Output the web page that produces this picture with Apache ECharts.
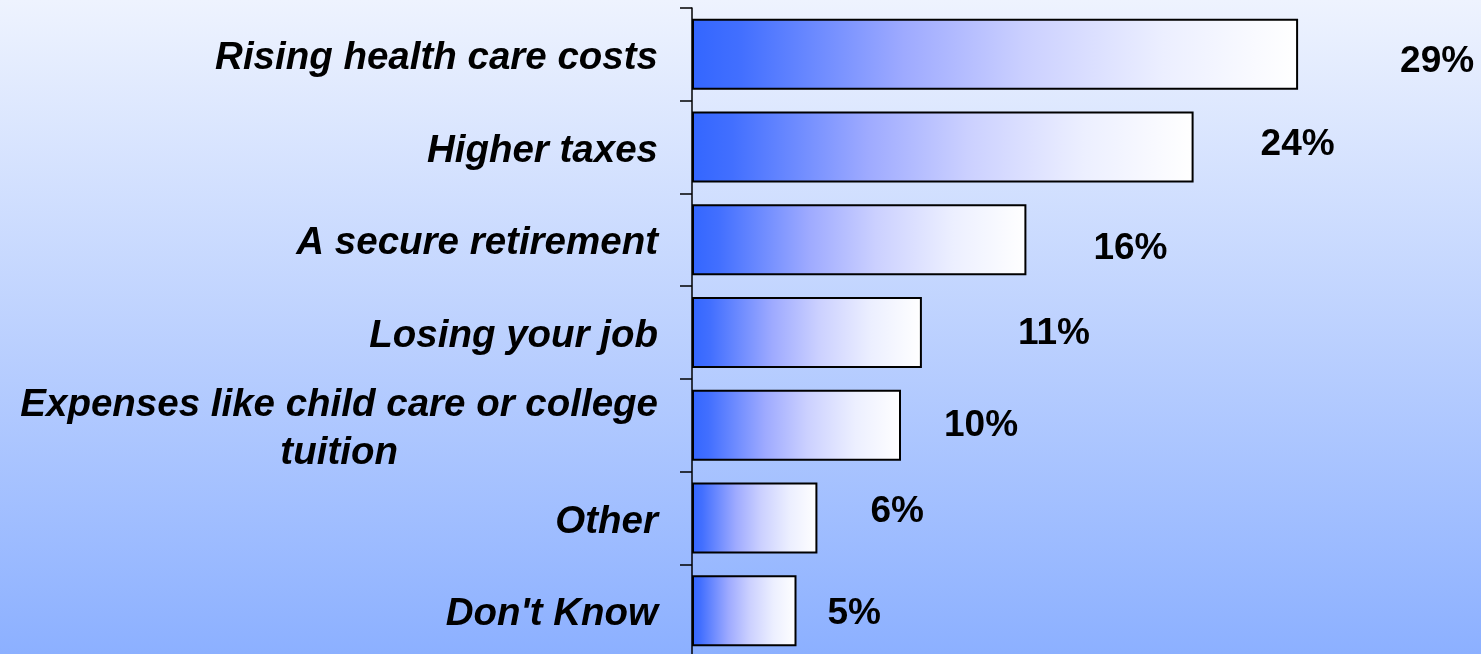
<!DOCTYPE html>
<html>
<head>
<meta charset="utf-8">
<script src="https://cdn.jsdelivr.net/npm/echarts@6/dist/echarts.min.js"></script>
<style>
html,body{margin:0;padding:0;width:1481px;height:654px;overflow:hidden;}
#c{width:1481px;height:654px;}
</style>
</head>
<body>
<div id="c"></div>
<script>
// ---- data ----
var categories = [
  'Rising health care costs',
  'Higher taxes',
  'A secure retirement',
  'Losing your job',
  'Expenses like child care or college\ntuition',
  'Other',
  "Don't Know"
];
var values = [29, 24, 16, 11, 10, 6, 5];

// ---- styling (label nudges as in the original slide) ----
var labelNudge = [[102, 7], [67, -2], [67, 9], [96, 1], [43, 1], [53, -6], [31, 3]];
var FONT = "'Liberation Sans', Arial, Helvetica, sans-serif";

var chart = echarts.init(document.getElementById('c'), null, {renderer: 'canvas'});

var barGradient = new echarts.graphic.LinearGradient(0, 0, 1, 0, [
  {offset: 0, color: '#3366ff'},
  {offset: 0.08, color: '#426fff'},
  {offset: 0.35, color: '#9eaaff'},
  {offset: 0.55, color: '#cbd0ff'},
  {offset: 0.78, color: '#ecefff'},
  {offset: 1, color: '#ffffff'}
]);

var seriesData = values.map(function (v, i) {
  return {
    value: v,
    label: {offset: labelNudge[i]}
  };
});

chart.setOption({
  animation: false,
  backgroundColor: new echarts.graphic.LinearGradient(0, 0, 0, 1, [
    {offset: 0, color: '#eef3fe'},
    {offset: 1, color: '#8cb0ff'}
  ]),
  grid: {left: 692, right: 57.5, top: 8, bottom: -3, containLabel: false, outerBoundsMode: 'none'},
  xAxis: {
    type: 'value', min: 0, max: 35, show: false,
    splitLine: {show: false}
  },
  yAxis: {
    type: 'category',
    inverse: true,
    data: categories,
    axisLine: {show: true, lineStyle: {color: '#000', width: 1.5}},
    axisTick: {show: true, length: 12, lineStyle: {color: '#000', width: 1.5}},
    axisLabel: {
      margin: 34,
      fontSize: 38.5,
      fontWeight: 'bold',
      fontStyle: 'italic',
      fontFamily: FONT,
      color: '#000',
      lineHeight: 48,
      padding: [8, 0, 0, 0],
      formatter: function (val) {
        return val.split('\n').map(function (s) { return '{c|' + s + '}'; }).join('\n');
      },
      rich: {
        c: {
          align: 'center',
          fontSize: 38.5,
          fontWeight: 'bold',
          fontStyle: 'italic',
          fontFamily: FONT,
          color: '#000',
          lineHeight: 48
        }
      }
    }
  },
  series: [{
    type: 'bar',
    data: seriesData,
    barWidth: 71,
    itemStyle: {
      color: barGradient,
      borderColor: '#000',
      borderWidth: 2
    },
    label: {
      show: true,
      position: 'right',
      distance: 0,
      formatter: '{c}%',
      fontSize: 37,
      fontWeight: 'bold',
      fontFamily: FONT,
      color: '#000'
    }
  }]
});
</script>
</body>
</html>
